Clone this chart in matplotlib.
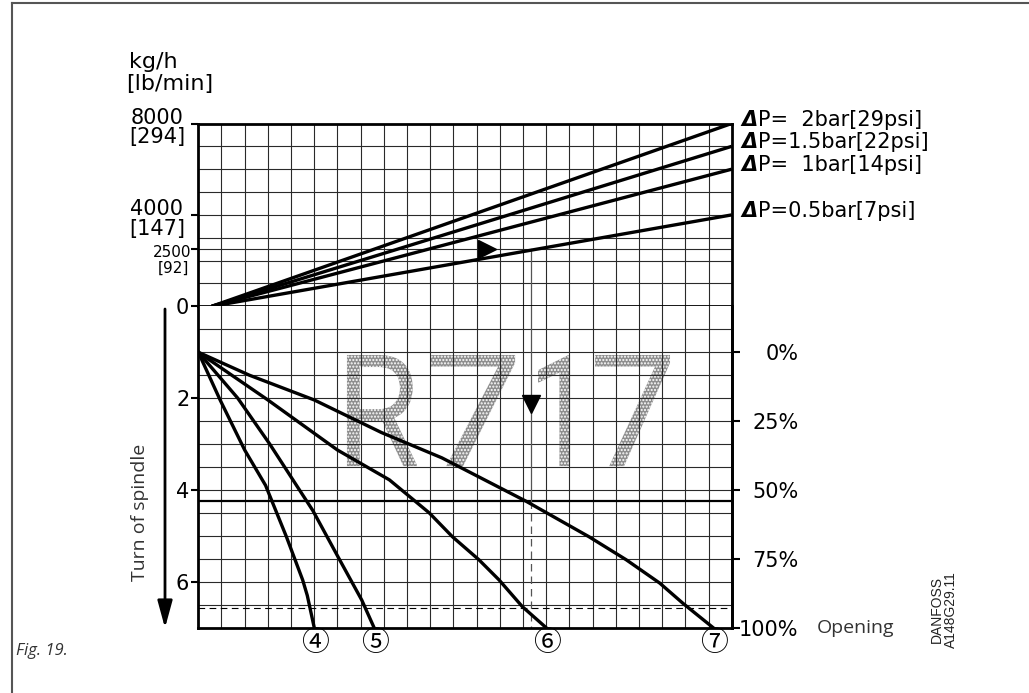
import matplotlib
matplotlib.use('Agg')
import matplotlib.pyplot as plt
from matplotlib.textpath import TextPath
from matplotlib.patches import PathPatch, FancyArrowPatch, ArrowStyle
from matplotlib.font_manager import FontProperties
from matplotlib.transforms import Affine2D
from matplotlib.lines import Line2D

# ---- upper part: capacity lines for each pressure drop
flow_ticks = [0, 2500, 4000, 8000]
flow_top = ['2500', '4000', '8000']
flow_bottom = ['[92]', '[147]', '[294]']
flow_grid = [1000, 2000, 2500, 3000, 4000, 5000, 6000, 7000]
dp_names = ['P=  2bar[29psi]', 'P=1.5bar[22psi]', 'P=  1bar[14psi]', 'P=0.5bar[7psi]']
dp_end_flow = [8000, 7000, 6000, 4000]
dp_x = [0.58, 23]

# ---- lower part: spindle turns for valve sizes 4..7
turn_ticks = [2, 4, 6]
turn_grid = [0.5, 1, 1.5, 2, 2.5, 3, 3.5, 4, 4.5, 5, 5.5, 6, 6.5]
pct_ticks = [0, 25, 50, 75, 100]
curve_names = ['④', '⑤', '⑥', '⑦']
curve_x = [
    [0, 0.95, 2.0, 2.9, 3.8, 4.5, 4.7, 5.0],
    [0, 1.7, 3.08, 4.08, 4.94, 6.05, 7.05, 7.58],
    [0, 3.0, 6.0, 8.24, 9.96, 10.96, 12.1, 12.97, 13.97, 15.0],
    [0, 2.2, 5.0, 7.9, 10.5, 14.15, 16.85, 18.45, 19.9, 20.9, 22.2],
]
curve_turn = [
    [1, 2.05, 3.13, 3.9, 5.02, 5.96, 6.3, 7],
    [1, 2.0, 3.0, 3.78, 4.45, 5.48, 6.4, 7],
    [1, 2.04, 3.13, 3.78, 4.5, 5.02, 5.52, 5.96, 6.54, 7],
    [1, 1.5, 2.04, 2.75, 3.3, 4.25, 5.02, 5.52, 6.03, 6.47, 7],
]

# worked example (2500 kg/h at 0.5 bar -> size 7)
ref_flow = 2500
ref_x = 14.33
ref_turn = 4.25
ref_arrow_x = 12.45
ref_arrow_turn = 2.13
max_turn_line = 6.58

W, H = 1029, 693


def fx(px):
    return px / W


def fy(py):
    return 1 - py / H


fig = plt.figure(figsize=(W / 100, H / 100), dpi=100)
ax_up = fig.add_axes([fx(198.3), fy(306.3), fx(731.7) - fx(198.3), fy(123.5) - fy(306.3)])
ax_lo = fig.add_axes([fx(198.3), fy(627.7), fx(731.7) - fx(198.3), fy(306.3) - fy(627.7)], sharex=ax_up)

grid_kw = dict(color='#2a2a2a', lw=0.8, zorder=1)
for ax in (ax_up, ax_lo):
    ax.set_xlim(0, 23)
    for gx in range(1, 23):
        ax.axvline(gx, **grid_kw)
    for s in ax.spines.values():
        s.set_linewidth(2.0)
    ax.tick_params(axis='x', length=0, labelbottom=False)
    ax.tick_params(axis='y', length=5, width=1.5, pad=1.5, labelsize=15)
ax_lo.spines['top'].set_visible(False)

# upper axes
ax_up.set_ylim(0, 8000)
for gy in flow_grid:
    ax_up.axhline(gy, **grid_kw)
ax_up.set_yticks(flow_ticks)
ax_up.set_yticklabels(['0', '', '', ''])
for name, end in zip(dp_names, dp_end_flow):
    ax_up.plot(dp_x, [0, end], color='black', lw=2.4, solid_capstyle='butt', zorder=3)
    d = ax_up.annotate('Δ', xy=(1, end), xycoords=('axes fraction', 'data'),
                       xytext=(10, 4), textcoords='offset pixels', fontsize=15,
                       fontweight='bold', fontstyle='italic', va='center', ha='left')
    ax_up.annotate(name, xy=(1, 0), xycoords=d, va='bottom', ha='left', fontsize=15)

sizes = {'8000': 15, '4000': 15, '2500': 11}
for val, top, bot in zip([2500, 4000, 8000], flow_top, flow_bottom):
    fs = sizes[top]
    if fs == 15:
        ax_up.annotate(top, xy=(0, val), xycoords=('axes fraction', 'data'),
                       xytext=(-15, 0), textcoords='offset pixels', ha='right',
                       va='baseline', fontsize=fs)
        ax_up.annotate(bot, xy=(0, val), xycoords=('axes fraction', 'data'),
                       xytext=(-13, -4), textcoords='offset pixels', ha='right',
                       va='top', fontsize=fs)
    else:
        ax_up.annotate(top, xy=(0, val), xycoords=('axes fraction', 'data'),
                       xytext=(-7, -3), textcoords='offset pixels', ha='right',
                       va='center', fontsize=fs)
        ax_up.annotate(bot, xy=(0, val), xycoords=('axes fraction', 'data'),
                       xytext=(-9, -19), textcoords='offset pixels', ha='right',
                       va='center', fontsize=fs)

fig.text(fx(129), fy(62), 'kg/h', fontsize=16, va='center', ha='left')
fig.text(fx(126), fy(84), '[lb/min]', fontsize=16, va='center', ha='left')

# reference path, upper
ax_up.plot([ref_x, ref_x], [0, ref_flow], color='#555555', lw=0.9, zorder=2)
ax_up.plot([ref_arrow_x], [ref_flow], marker='>', ms=13, color='black', zorder=4)

# lower axes
ax_lo.set_ylim(7, 0)
for gy in turn_grid:
    ax_lo.axhline(gy, **grid_kw)
ax_lo.set_yticks(turn_ticks)
ax_lo.set_yticklabels([str(t) for t in turn_ticks])

# watermark letters, stippled grey
wm_font = FontProperties(family='Roboto')
wm_boxes = [('R', 6.41, 9.43), ('7', 10.0, 13.66), ('1', 14.65, 16.03), ('7', 17.11, 20.34)]
wm_t0, wm_t1 = 1.06, 3.48
plt.rcParams['hatch.linewidth'] = 1.0
for ch, x0, x1 in wm_boxes:
    tp = TextPath((0, 0), ch, size=1, prop=wm_font)
    ext = tp.get_extents()
    tr = (Affine2D().translate(-ext.x0, -ext.y0)
          .scale((x1 - x0) / ext.width, -(wm_t1 - wm_t0) / ext.height)
          .translate(x0, wm_t1))
    ax_lo.add_patch(PathPatch(tp, transform=tr + ax_lo.transData, facecolor='#8e8e8e',
                              edgecolor='white', lw=0, hatch='.....', zorder=0.5))

for name, xs, ts in zip(curve_names, curve_x, curve_turn):
    ax_lo.plot(xs, ts, color='black', lw=2.4, zorder=3)
    ax_lo.annotate(name, xy=(xs[-1], 7), xytext=(1, -15), textcoords='offset pixels',
                   ha='center', va='center', fontsize=20,
                   family=['Noto Sans CJK JP', 'DejaVu Sans'], annotation_clip=False)

ax_lo.axhline(ref_turn, color='black', lw=1.6, zorder=2)
ax_lo.axhline(max_turn_line, color='black', lw=0.8, dashes=(6, 4), zorder=2)
ax_lo.plot([ref_x, ref_x], [0, ref_turn], color='#555555', lw=0.9, zorder=2)
ax_lo.plot([ref_x, ref_x], [ref_turn, 7], color='#555555', lw=0.9, dashes=(6, 4), zorder=2)
ax_lo.plot([ref_x], [ref_arrow_turn], marker='v', ms=13, color='black', zorder=4)

sec = ax_lo.secondary_yaxis('right', functions=(lambda t: (t - 1) / 6 * 100,
                                                 lambda p: 1 + p * 6 / 100))
sec.set_yticks(pct_ticks)
sec.set_yticklabels([f'{p}%' for p in pct_ticks])
sec.spines['right'].set_linewidth(2.0)
sec.tick_params(length=6, width=1.5, labelsize=15, pad=42)
for lab in sec.get_yticklabels():
    lab.set_horizontalalignment('right')

ax_lo.annotate('Opening', xy=(1, 7), xycoords=('axes fraction', 'data'),
               xytext=(85, 0), textcoords='offset pixels', va='center', ha='left',
               family='Open Sans', fontsize=14, color='#333333')

# side arrow and captions
fig.add_artist(FancyArrowPatch((fx(165), fy(309)), (fx(165), fy(628)),
                               transform=fig.transFigure,
                               arrowstyle=ArrowStyle('-|>', head_length=1.65, head_width=0.45),
                               mutation_scale=10, lw=2.0, color='black',
                               shrinkA=0, shrinkB=0))
fig.text(fx(140), fy(512), 'Turn of spindle', rotation=90, ha='center', va='center',
         family='Open Sans', fontsize=14, color='#333333')
fig.text(fx(16), fy(651), 'Fig. 19.', family='Open Sans', style='italic', fontsize=12,
         color='#333333', va='center', ha='left')
fig.text(fx(944), fy(648), 'DANFOSS\nA148G29.11', rotation=90, ha='center', va='bottom',
         family=['Liberation Sans Narrow', 'Liberation Sans'], fontsize=10,
         linespacing=1.0, color='#222222')

# page frame
fig.add_artist(Line2D([fx(11.5), 1], [fy(2.5), fy(2.5)], transform=fig.transFigure,
                      color='#555555', lw=1.5))
fig.add_artist(Line2D([fx(11.5), fx(11.5)], [0, fy(2.5)], transform=fig.transFigure,
                      color='#555555', lw=1.5))

fig.savefig('out.png', dpi=100)
